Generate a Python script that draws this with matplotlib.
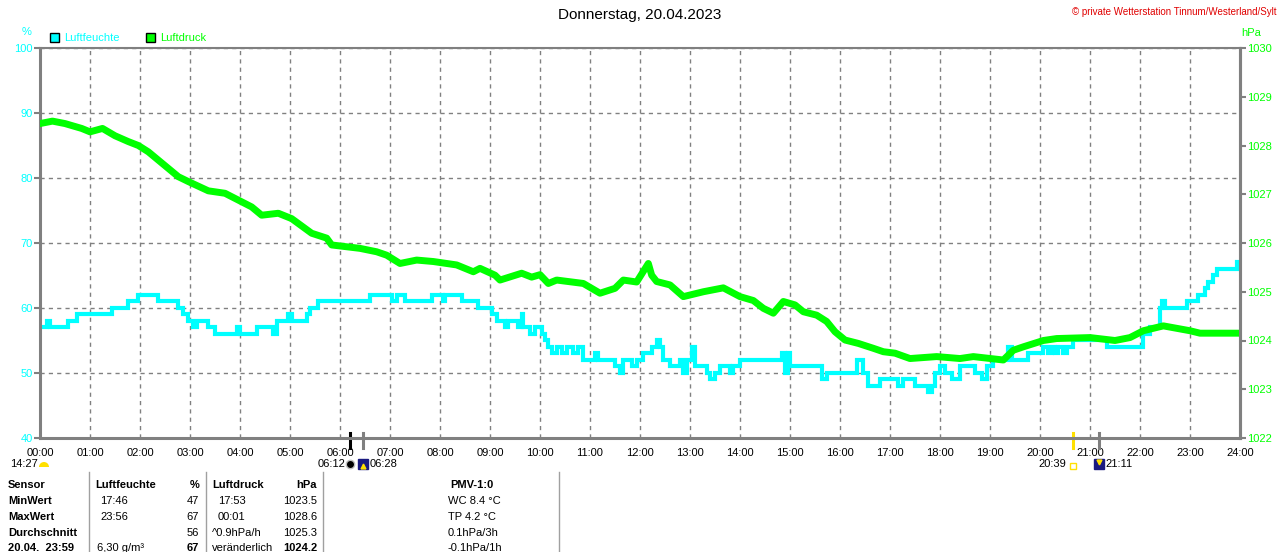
import matplotlib.pyplot as plt
from matplotlib.patches import Rectangle, Wedge
from matplotlib.transforms import blended_transform_factory, offset_copy

plt.rcParams['font.family'] = ['Liberation Sans', 'DejaVu Sans']

CYAN = '#00FFFF'
GREEN = '#00FF00'
GREY = '#808080'

# Luftfeuchte (%), Stufenwerte ab Uhrzeit
hum_t = ['00:00', '00:08', '00:12', '00:34', '00:44', '01:26', '01:46', '01:58', '02:22', '02:46',
         '02:52', '02:58', '03:04', '03:08', '03:22', '03:30', '03:56', '04:00', '04:20', '04:40',
         '04:44', '04:58', '05:02', '05:20', '05:24', '05:34', '06:36', '07:02', '07:08', '07:18',
         '07:50', '08:03', '08:06', '08:26', '08:45', '09:02', '09:08', '09:18', '09:22', '09:34',
         '09:38', '09:40', '09:48', '09:54', '10:02', '10:06', '10:10', '10:14', '10:20', '10:26',
         '10:32', '10:40', '10:46', '10:52', '11:06', '11:10', '11:30', '11:36', '11:40', '11:50',
         '11:56', '12:04', '12:14', '12:20', '12:24', '12:28', '12:36', '12:48', '12:52', '12:56',
         '13:02', '13:06', '13:20', '13:24', '13:30', '13:36', '13:48', '13:52', '14:00', '14:50',
         '14:54', '14:58', '15:00', '15:38', '15:44', '16:20', '16:28', '16:34', '16:48', '17:10',
         '17:16', '17:30', '17:46', '17:50', '17:54', '18:00', '18:06', '18:14', '18:24', '18:42',
         '18:50', '18:56', '19:04', '19:22', '19:26', '19:46', '20:04', '20:10', '20:14', '20:18',
         '20:22', '20:28', '20:32', '20:40', '21:20', '22:04', '22:12', '22:24', '22:26', '22:30',
         '22:56', '23:10', '23:18', '23:22', '23:28', '23:32', '23:56', '24:00']
hum_v = [57, 58, 57, 58, 59, 60, 61, 62, 61, 60,
         59, 58, 57, 58, 57, 56, 57, 56, 57, 56,
         58, 59, 58, 59, 60, 61, 62, 61, 62, 61,
         62, 61, 62, 61, 60, 59, 58, 57, 58, 57,
         59, 57, 56, 57, 56, 55, 54, 53, 54, 53,
         54, 53, 54, 52, 53, 52, 51, 50, 52, 51,
         52, 53, 54, 55, 54, 52, 51, 52, 50, 52,
         54, 51, 50, 49, 50, 51, 50, 51, 52, 53,
         50, 53, 51, 49, 50, 52, 50, 48, 49, 48,
         49, 48, 47, 48, 50, 51, 50, 49, 51, 50,
         49, 51, 52, 54, 52, 53, 54, 53, 54, 53,
         54, 53, 54, 55, 54, 56, 57, 60, 61, 60,
         61, 62, 63, 64, 65, 66, 67, 67]

# Luftdruck (hPa)
prs_t = ['00:00', '00:15', '00:30', '00:50', '01:00', '01:15', '01:30', '01:46', '01:58', '02:10',
         '02:22', '02:34', '02:46', '02:58', '03:22', '03:42', '03:58', '04:14', '04:26', '04:46',
         '05:02', '05:14', '05:26', '05:44', '05:50', '06:24', '06:44', '06:56', '07:12', '07:32',
         '07:52', '08:20', '08:40', '08:48', '09:06', '09:12', '09:38', '09:50', '10:00', '10:10',
         '10:20', '10:52', '11:12', '11:30', '11:40', '11:56', '12:10', '12:14', '12:20', '12:36',
         '12:52', '13:16', '13:40', '14:00', '14:16', '14:28', '14:40', '14:52', '15:06', '15:16',
         '15:32', '15:44', '15:54', '16:06', '16:22', '16:40', '16:52', '17:06', '17:24', '17:56',
         '18:24', '18:40', '19:16', '19:28', '19:40', '20:04', '20:20', '21:00', '21:30', '21:48',
         '22:04', '22:28', '23:00', '23:12', '24:00']
prs_v = [1028.45, 1028.5, 1028.45, 1028.35, 1028.28, 1028.35, 1028.2, 1028.08, 1028.0, 1027.87,
         1027.7, 1027.53, 1027.36, 1027.26, 1027.07, 1027.02, 1026.88, 1026.74, 1026.57, 1026.61,
         1026.5, 1026.35, 1026.2, 1026.1, 1025.96, 1025.89, 1025.82, 1025.75, 1025.58, 1025.65,
         1025.62, 1025.55, 1025.41, 1025.48, 1025.34, 1025.24, 1025.38, 1025.3, 1025.35, 1025.17,
         1025.24, 1025.17, 1024.97, 1025.07, 1025.24, 1025.2, 1025.58, 1025.34, 1025.21, 1025.14,
         1024.9, 1025.0, 1025.08, 1024.9, 1024.82, 1024.66, 1024.56, 1024.8, 1024.73, 1024.59,
         1024.52, 1024.39, 1024.18, 1024.01, 1023.94, 1023.84, 1023.77, 1023.74, 1023.63, 1023.67,
         1023.63, 1023.67, 1023.6, 1023.8, 1023.87, 1024.0, 1024.04, 1024.06, 1024.0, 1024.06,
         1024.2, 1024.3, 1024.2, 1024.15, 1024.15]

hours = list(range(25))
hour_labels = ['%02d:00' % h for h in hours]

# Sonne / Mond
sun_times = ['06:12', '06:28', '20:39', '21:11']

# Tabelle
row_names = ['Sensor', 'MinWert', 'MaxWert', 'Durchschnitt', '20.04.  23:59']
hum_info = ['', '17:46', '23:56', '', '6,30 g/m³']
hum_vals = ['%', '47', '67', '56', '67']
prs_info = ['', '17:53', '00:01', '^0.9hPa/h', 'veränderlich']
prs_vals = ['hPa', '1023.5', '1028.6', '1025.3', '1024.2']
pmv = ['PMV-1:0', 'WC 8.4 °C', 'TP 4.2 °C', '0.1hPa/3h', '-0.1hPa/1h']


def hrs(t):
    h, m = t.split(':')
    return int(h) + int(m) / 60


fig = plt.figure(figsize=(12.8, 5.52), dpi=100)
ax = fig.add_axes([40 / 1280, 114 / 552, 1200 / 1280, 390 / 552])
ax2 = ax.twinx()

ax.step([hrs(t) for t in hum_t], hum_v, where='post', color=CYAN, lw=3, solid_joinstyle='miter')
ax2.plot([hrs(t) for t in prs_t], prs_v, color=GREEN, lw=5)

ax.set_xlim(0, 24)
ax.set_ylim(40, 100)
ax2.set_ylim(1022, 1030)
ax.set_xticks(hours)
ax.set_xticklabels(hour_labels)
ax.set_yticks(range(40, 101, 10))
ax2.set_yticks(range(1022, 1031))
ax.grid(True, color=GREY, linestyle=(0, (3, 3)), linewidth=1)
ax.tick_params(axis='x', length=0, pad=7, labelsize=8)
ax.tick_params(axis='y', length=4, width=1.5, color=GREY, pad=1, labelsize=8, labelcolor=CYAN)
ax2.tick_params(axis='y', length=4, width=1.5, color=GREY, pad=1, labelsize=8, labelcolor=GREEN)
for s in ['left', 'bottom', 'right']:
    ax.spines[s].set_color(GREY)
    ax.spines[s].set_linewidth(2.2)
ax.spines['top'].set_color(GREY)
ax.spines['top'].set_linewidth(1.5)
for s in ['left', 'bottom', 'top']:
    ax2.spines[s].set_visible(False)
ax2.spines['right'].set_color(GREY)
ax2.spines['right'].set_linewidth(2.2)

# overlay in pixel coordinates
ov = fig.add_axes([0, 0, 1, 1])
ov.set_xlim(0, 1280)
ov.set_ylim(552, 0)
ov.axis('off')

ov.text(640, 15, 'Donnerstag, 20.04.2023', ha='center', va='center', fontsize=11)
ov.text(1277, 12, '© private Wetterstation Tinnum/Westerland/Sylt', ha='right', va='center',
        fontsize=7, color='#E00000')
ov.text(27, 32, '%', ha='center', va='center', fontsize=8, color=CYAN)
ov.text(1251, 33, 'hPa', ha='center', va='center', fontsize=8, color=GREEN)
ov.add_patch(Rectangle((50, 33), 9, 9, facecolor=CYAN, edgecolor='black', lw=1))
ov.text(64, 38, 'Luftfeuchte', va='center', fontsize=8, color=CYAN)
ov.add_patch(Rectangle((146, 33), 9, 9, facecolor=GREEN, edgecolor='black', lw=1))
ov.text(160, 38, 'Luftdruck', va='center', fontsize=8, color=GREEN)

# Mond
ov.text(10, 464, '14:27', va='center', fontsize=8)
ov.add_patch(Wedge((44, 467), 5, 180, 360, facecolor='#FFE000', edgecolor='none'))

# Sonnenauf-/untergang, Dämmerung
tr_axis = blended_transform_factory(ax.transData, ax.transAxes)
tr_row = blended_transform_factory(ax.transData, ov.transData)
mark_colors = ['black', GREY, '#FFE000', GREY]
for t, c in zip(sun_times, mark_colors):
    ax.plot([hrs(t), hrs(t)], [0.013, -0.026], color=c, lw=2.2, transform=tr_axis, clip_on=False)
t0, t1, t2, t3 = [hrs(t) for t in sun_times]
ov.plot([t0], [464], 'o', color='black', ms=6, mec='#C0C0C0', transform=tr_row)
ov.plot([t1], [464], 's', color='#1A1A80', ms=7, transform=tr_row)
ov.plot([t1], [466], '^', color='#FFE000', ms=3.5, transform=tr_row)
ov.text(t0, 464, sun_times[0], ha='right', va='center', fontsize=8,
        transform=offset_copy(tr_row, fig, x=-5, units='dots'))
ov.text(t1, 464, sun_times[1], ha='left', va='center', fontsize=8,
        transform=offset_copy(tr_row, fig, x=6, units='dots'))
ov.plot([t2], [466], 's', mfc='none', mec='#FFE000', ms=4, mew=1, transform=tr_row)
ov.plot([t3], [464], 's', color='#1A1A80', ms=7, transform=tr_row)
ov.plot([t3], [462], 'v', color='#FFE000', ms=3.5, transform=tr_row)
ov.text(t2, 464, sun_times[2], ha='right', va='center', fontsize=8,
        transform=offset_copy(tr_row, fig, x=-6, units='dots'))
ov.text(t3, 464, sun_times[3], ha='left', va='center', fontsize=8,
        transform=offset_copy(tr_row, fig, x=6, units='dots'))

# Tabelle
for x in [89, 206, 323, 559]:
    ov.plot([x, x], [472, 552], color='#A0A0A0', lw=1)
rows_y = [485, 501, 517, 533, 548]
for i, y in enumerate(rows_y):
    bold_val = 'bold' if i in (0, 4) else 'normal'
    ov.text(8, y, row_names[i], va='center', fontsize=8, fontweight='bold')
    if i == 0:
        ov.text(95, y, 'Luftfeuchte', va='center', fontsize=8, fontweight='bold')
        ov.text(212, y, 'Luftdruck', va='center', fontsize=8, fontweight='bold')
    else:
        ov.text(97 if i == 4 else 100, y, hum_info[i], va='center', fontsize=8)
        ov.text(212 if i >= 3 else 218, y, prs_info[i], va='center', fontsize=8)
    ov.text(199, y, hum_vals[i], ha='right', va='center', fontsize=8, fontweight=bold_val)
    ov.text(317, y, prs_vals[i], ha='right', va='center', fontsize=8, fontweight=bold_val)
    if i == 0:
        ov.text(472, y, pmv[i], ha='center', va='center', fontsize=8, fontweight='bold')
    else:
        ov.text(448, y, pmv[i], va='center', fontsize=8)

fig.savefig('out.png', dpi=100)
